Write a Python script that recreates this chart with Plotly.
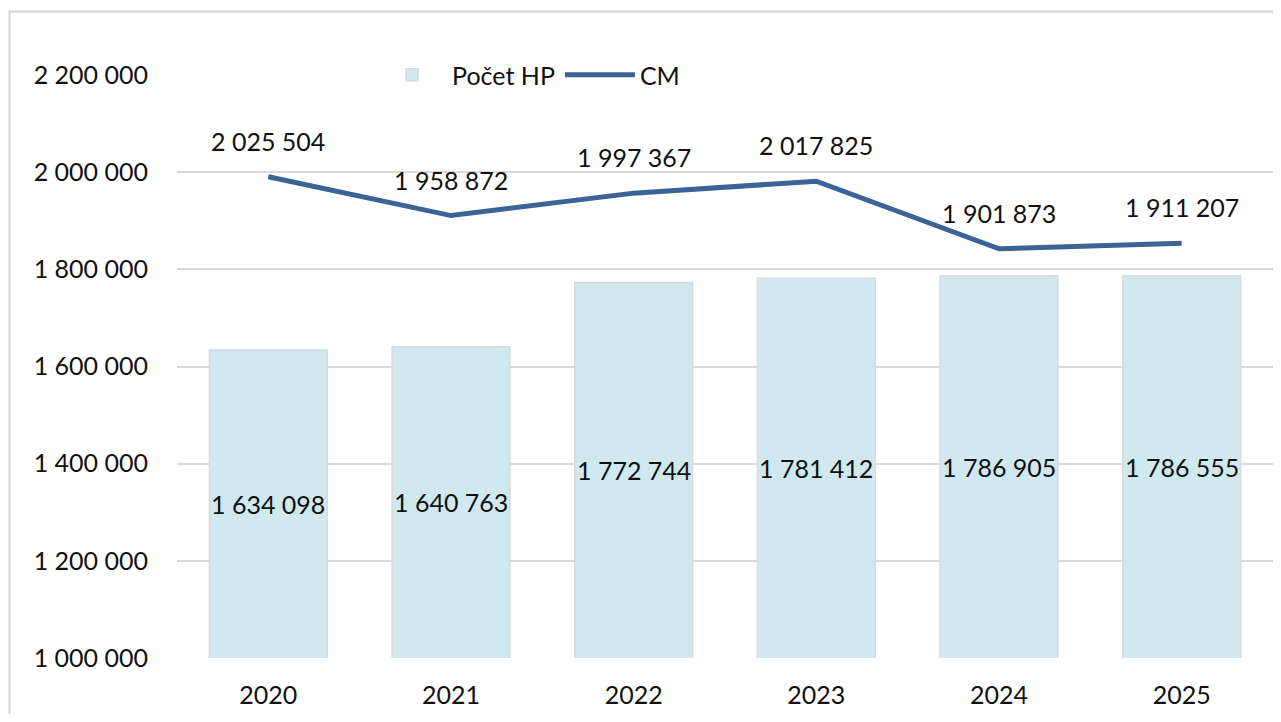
import plotly.graph_objects as go

years = ["2020", "2021", "2022", "2023", "2024", "2025"]
pocet_hp = [1634098, 1640763, 1772744, 1781412, 1786905, 1786555]
cm = [2025504, 1958872, 1997367, 2017825, 1901873, 1911207]
y_ticks = [1000000, 1200000, 1400000, 1600000, 1800000, 2000000, 2200000]
Y_RANGE = [1000000, 2200000]
Y2_RANGE = [1200000, 2200000]

FONT = "Lato, 'Open Sans', sans-serif"
TXT = dict(family=FONT, size=25, color="#111111")

def fmt(v):
    return f"{v:,}".replace(",", " ")

fig = go.Figure()
fig.add_trace(go.Bar(
    x=years, y=pocet_hp, name="Počet HP",
    marker=dict(color="#D0E8F0", line=dict(color="#D9D9D9", width=1.5)),
    textposition="none",
    hoverinfo="skip",
))
fig.add_trace(go.Scatter(
    x=years, y=cm, name="CM", yaxis="y2", mode="lines",
    line=dict(color="#3B6396", width=5),
    hoverinfo="skip",
))

# bar labels centred on the visible part of each bar (category index on x)
for i, v in enumerate(pocet_hp):
    fig.add_annotation(x=i, y=(Y_RANGE[0] + v) / 2, xref="x", yref="y",
                       text=fmt(v), showarrow=False, font=TXT)

# line labels above each point
for i, v in enumerate(cm):
    fig.add_annotation(x=i, y=v, xref="x", yref="y2", text=fmt(v),
                       showarrow=False, yshift=36, font=TXT)

fig.add_shape(type="rect", xref="paper", yref="paper",
              x0=-0.1528, x1=1.2, y0=-0.3, y1=1.1089,
              line=dict(color="#D4D4D4", width=2), layer="below")

fig.update_layout(
    width=1265, height=706,
    margin=dict(l=169, r=0, t=67, b=56, autoexpand=False),
    paper_bgcolor="white", plot_bgcolor="white",
    bargap=0.355,
    font=TXT,
    showlegend=True,
    legend=dict(orientation="h", x=0.178, xanchor="left", y=1.0, yanchor="middle",
                bgcolor="white", itemwidth=70, font=TXT),
    xaxis=dict(type="category", range=[-0.5, 5.5], showgrid=False, showline=False,
               ticks="outside", ticklen=15, tickcolor="rgba(0,0,0,0)",
               tickfont=TXT),
    yaxis=dict(range=Y_RANGE, tickvals=y_ticks,
               ticktext=[fmt(v) for v in y_ticks],
               showgrid=True, gridcolor="#D9D9D9", gridwidth=1.5,
               zeroline=False, showline=False,
               ticks="outside", ticklen=23, tickcolor="rgba(0,0,0,0)",
               tickfont=TXT),
    yaxis2=dict(range=Y2_RANGE, overlaying="y", side="right",
                visible=False, showgrid=False),
)

fig.write_html("out.html")
